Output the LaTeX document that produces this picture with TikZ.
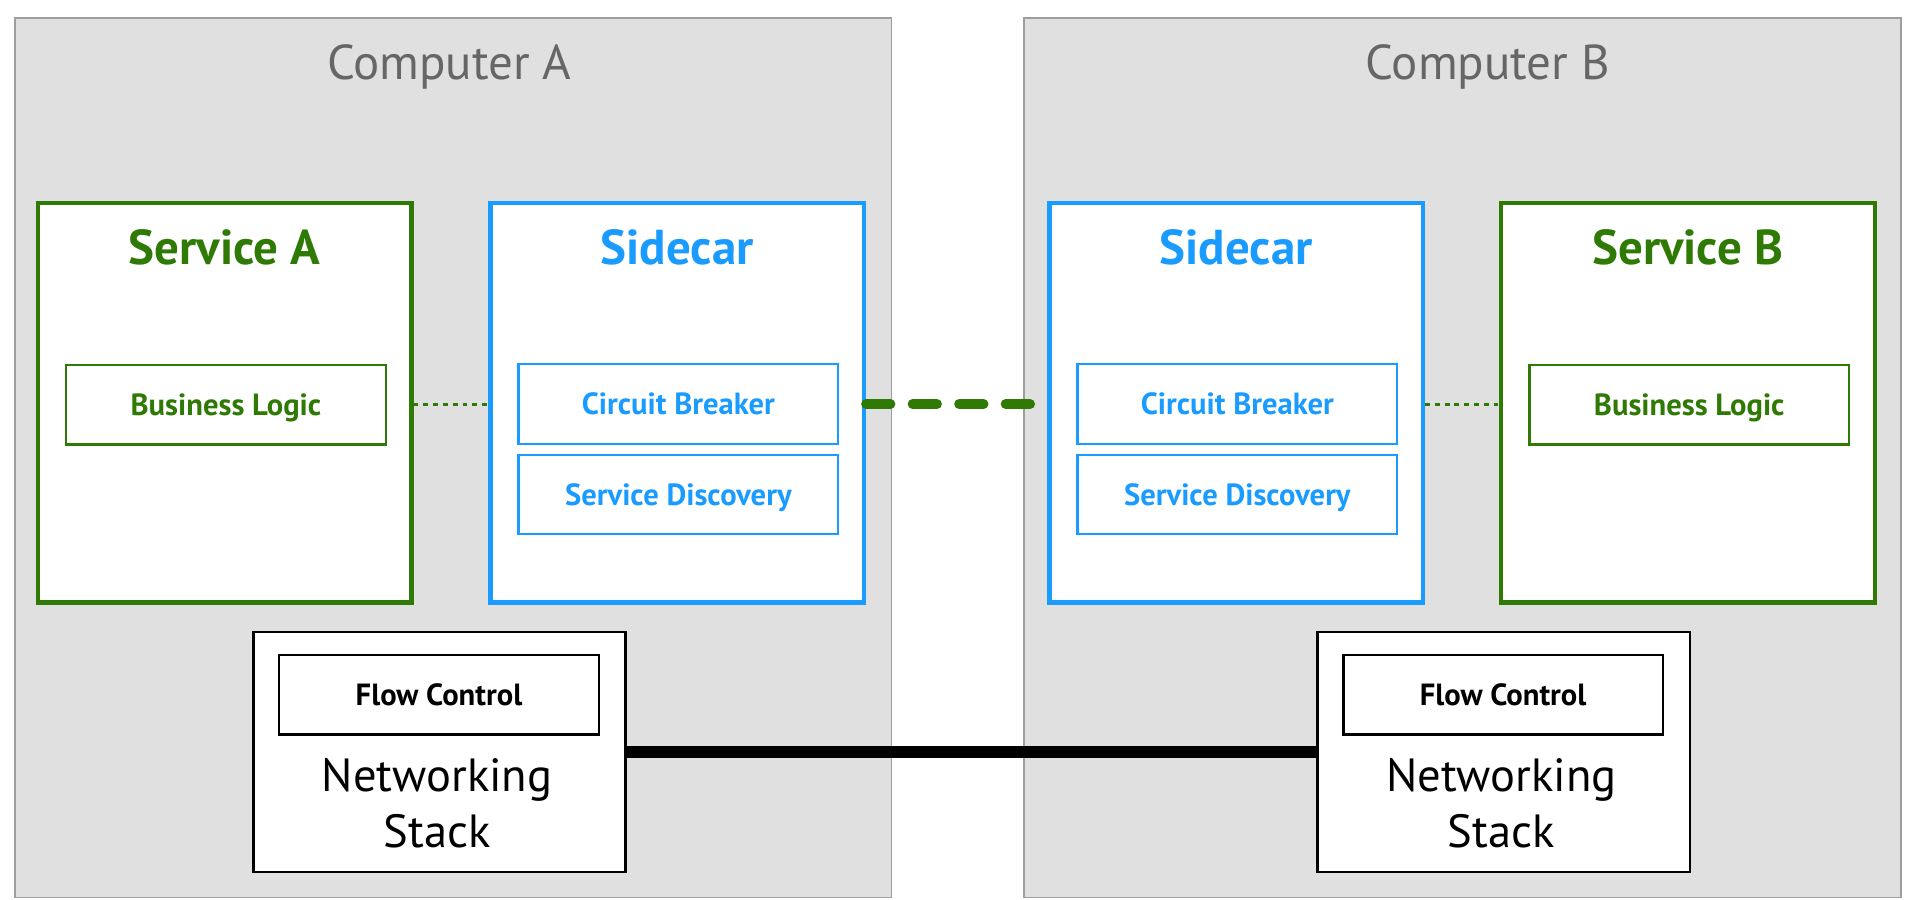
\documentclass[tikz,border=0pt]{standalone}
\usepackage{fontspec}
\setmainfont{PT Sans}
\usetikzlibrary{positioning}

\definecolor{svcgreen}{HTML}{2F7A05}
\definecolor{carblue}{HTML}{1A9BFF}
\definecolor{hostgray}{HTML}{E0E0E0}

\begin{document}
\begin{tikzpicture}[x=1pt,y=-1pt,
  host/.style={draw=black!38,line width=1.5pt,fill=hostgray,minimum width=716pt,minimum height=718pt,inner sep=0pt},
  hosttitle/.style={anchor=base,text=black!60,font=\fontsize{40}{46}\selectfont},
  svc/.style={draw=svcgreen,line width=3.5pt,fill=white,minimum width=305pt,minimum height=326pt,inner sep=0pt},
  car/.style={svc,draw=carblue},
  boxtitle/.style={anchor=base,font=\fontsize{40}{46}\selectfont\bfseries},
  part/.style={draw,line width=1.8pt,fill=white,minimum width=261pt,minimum height=65pt,inner sep=0pt,
    text height=17.5pt,text depth=0pt,font=\fontsize{25}{30}\selectfont\bfseries},
  net/.style={draw=black,line width=2pt,fill=white,minimum width=304pt,minimum height=196pt,inner sep=0pt}]
\useasboundingbox (0,0) rectangle (1568,735);

% the two computers
\node[host] (compA) at (370,374) {};
\node[host] (compB) at (1194.5,374) {};
\node[hosttitle] (titleA) at (367,65) {Computer A};
\node[hosttitle] (titleB) at (1215,65) {Computer B};

% services and sidecars
\node[svc] (svcA) at (183.5,329) {};
\node[car] (sideA) at (553,329) {};
\node[car] (sideB) at (1009.5,329) {};
\node[svc] (svcB) at (1378.5,329) {};
\node[boxtitle,text=svcgreen] at (183.5,216) {Service A};
\node[boxtitle,text=carblue] at (553,216) {Sidecar};
\node[boxtitle,text=carblue] at (1009.5,216) {Sidecar};
\node[boxtitle,text=svcgreen] at (1378.5,216) {Service B};

\node[part,draw=svcgreen,text=svcgreen] (bizA) at (184.5,330.5) {Business Logic};
\node[part,draw=carblue,text=carblue] (cbA) at (554,330) {Circuit Breaker};
\node[part,draw=carblue,text=carblue] (sdA) [below=7pt of cbA] {Service Discovery};
\node[part,draw=carblue,text=carblue] (cbB) at (1010.5,330) {Circuit Breaker};
\node[part,draw=carblue,text=carblue] (sdB) [below=7pt of cbB] {Service Discovery};
\node[part,draw=svcgreen,text=svcgreen] (bizB) at (1379.5,330.5) {Business Logic};

% networking stacks
\node[net] (netA) at (359,614) {};
\node[net] (netB) at (1228,614) {};
\node[part,line width=2pt] (flowA) at (358.5,567.5) {Flow Control};
\node[part,line width=2pt] (flowB) at (1227.5,567.5) {Flow Control};
\node[align=center,font=\fontsize{38}{46}\selectfont] (stackA) at (357,656) {Networking\\Stack};
\node[align=center,font=\fontsize{38}{46}\selectfont] (stackB) at (1226,656) {Networking\\Stack};

% links
\draw[svcgreen,line width=2pt,dash pattern=on 4pt off 4pt] (svcA.east |- bizA) -- (sideA.west |- bizA);
\draw[svcgreen,line width=2pt,dash pattern=on 4pt off 4pt] (sideB.east |- bizB) -- (svcB.west |- bizB);
\draw[svcgreen,line width=8pt,line cap=round,dash pattern=on 20pt off 18pt] (sideA.east |- cbA) -- (sideB.west |- cbB);
\draw[line width=10pt] (netA.east) -- (netB.west);
\end{tikzpicture}
\end{document}
